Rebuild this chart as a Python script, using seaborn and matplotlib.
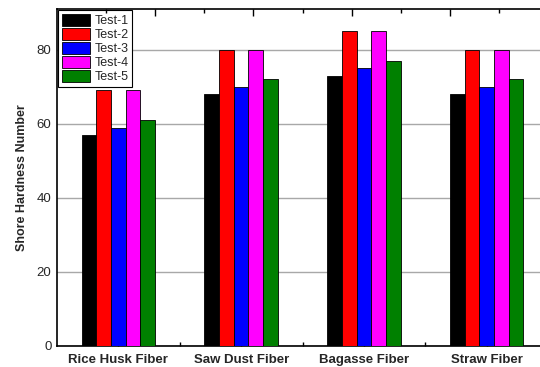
import matplotlib
matplotlib.use("Agg")
import matplotlib.pyplot as plt
import numpy as np
import pandas as pd
import seaborn as sns
from matplotlib.ticker import FixedLocator, MultipleLocator

# data
fibers = ["Rice Husk Fiber", "Saw Dust Fiber", "Bagasse Fiber", "Straw Fiber"]
tests = ["Test-1", "Test-2", "Test-3", "Test-4", "Test-5"]
test_1 = [57, 68, 73, 68]
test_2 = [69, 80, 85, 80]
test_3 = [59, 70, 75, 70]
test_4 = [69, 80, 85, 80]
test_5 = [61, 72, 77, 72]
colors = ["#000000", "#ff0000", "#0000ff", "#ff00ff", "#008000"]

rows = []
for name, vals in zip(tests, [test_1, test_2, test_3, test_4, test_5]):
    for fib, v in zip(fibers, vals):
        rows.append({"Fiber": fib, "Test": name, "Hardness": v})
df = pd.DataFrame(rows)

sns.set_style("white")
plt.rcParams["font.family"] = ["Liberation Sans", "DejaVu Sans"]

fig = plt.figure(figsize=(5.4, 3.67), dpi=100)
ax = fig.add_axes([57 / 540, 21 / 367, 491 / 540, 337 / 367])

sns.barplot(data=df, x="Fiber", y="Hardness", hue="Test", order=fibers,
            hue_order=tests, palette=colors, width=0.6, gap=0,
            edgecolor="black", linewidth=0.6, saturation=1, ax=ax, zorder=3)

ax.set_xlim(-0.5, 3.5)
ax.set_ylim(0, 91)
ax.yaxis.set_major_locator(MultipleLocator(20))
ax.yaxis.set_minor_locator(MultipleLocator(10))
ax.xaxis.set_minor_locator(FixedLocator([0.5, 1.5, 2.5]))
ax.grid(axis="y", color="#a8a8a8", lw=1.0, zorder=0)
ax.set_axisbelow(True)

ax.tick_params(axis="both", which="major", direction="in", length=5, width=1,
               labelsize=9.5, pad=4, color="black")
ax.tick_params(axis="both", which="minor", direction="in", length=3, width=1,
               color="black")
ax.tick_params(axis="x", which="major", pad=6)
for lbl in ax.get_xticklabels():
    lbl.set_fontweight("bold")
    lbl.set_fontsize(9.5)

ax.set_xlabel("")
ax.set_ylabel("Shore Hardness Number", fontsize=9, fontweight="bold", labelpad=6)

for side in ["left", "bottom", "top"]:
    ax.spines[side].set_color("black")
    ax.spines[side].set_linewidth(1.2)
ax.spines["right"].set_visible(False)

# top axis ticks (own spacing in the original)
top = ax.twiny()
top.set_xlim(ax.get_xlim())
top.xaxis.set_major_locator(FixedLocator([0.3, 1.1, 1.9, 2.7]))
top.xaxis.set_minor_locator(FixedLocator([-0.1, 0.7, 1.5, 2.3, 3.1]))
top.tick_params(axis="x", which="major", direction="in", length=5, width=1,
                labeltop=False, color="black")
top.tick_params(axis="x", which="minor", direction="in", length=3, width=1,
                color="black")
for s in top.spines.values():
    s.set_visible(False)

leg = ax.legend(loc="upper left", bbox_to_anchor=(0.0, 1.0), borderaxespad=0.1,
                fontsize=9, frameon=True, fancybox=False, edgecolor="black",
                handlelength=2.2, handleheight=1.05, labelspacing=0.08,
                handletextpad=0.4, borderpad=0.3)
leg.get_frame().set_linewidth(0.8)
leg.get_frame().set_alpha(1)
leg.set_zorder(5)

plt.savefig("out.png", dpi=100)
plt.close()
